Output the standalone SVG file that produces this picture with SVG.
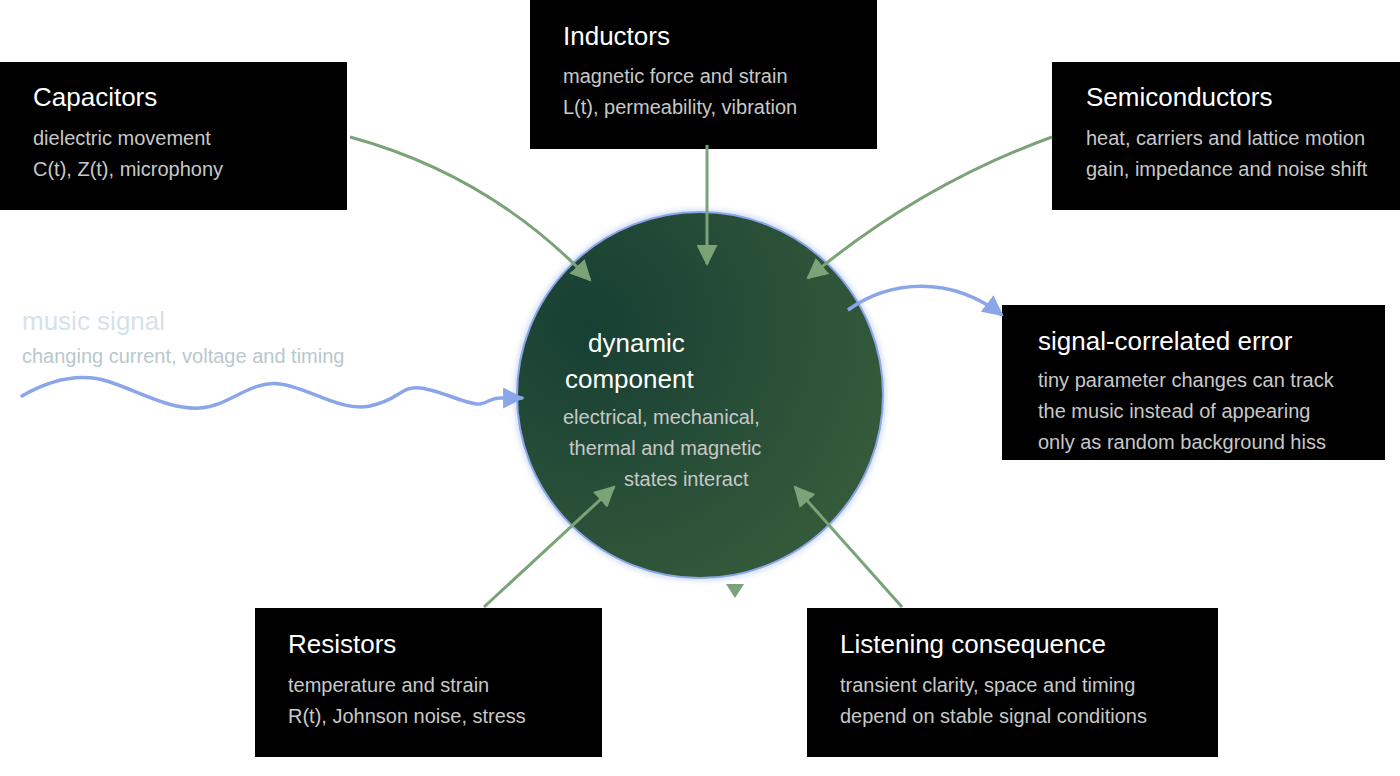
<svg xmlns="http://www.w3.org/2000/svg" width="1400" height="776" viewBox="0 0 1400 776">
<defs>
<radialGradient id="cg" cx="0.2" cy="0.3" r="1">
<stop offset="0" stop-color="#173f33"/><stop offset="1" stop-color="#3a5f3c"/>
</radialGradient>
<filter id="glow" x="-20%" y="-20%" width="140%" height="140%"><feGaussianBlur stdDeviation="3"/></filter>
<marker id="ag" viewBox="0 0 10 10" refX="9" refY="5" markerWidth="7" markerHeight="7" markerUnits="strokeWidth" orient="auto"><path d="M0,0L10,5L0,10z" fill="#7aa378"/></marker>
<marker id="ab" viewBox="0 0 10 10" refX="9" refY="5" markerWidth="6" markerHeight="6" markerUnits="strokeWidth" orient="auto"><path d="M0,0L10,5L0,10z" fill="#8aa6e8"/></marker>
</defs>
<style>
.box{fill:#000}
.t{font-family:"Liberation Sans",Arial,sans-serif;font-size:26px;fill:#fff}
.s{font-family:"Liberation Sans",Arial,sans-serif;font-size:20px;fill:#c8c8c8}
.c{fill:none;stroke:#7aa378;stroke-width:3}
.b{fill:none;stroke:#8aa6e8;stroke-width:3.5}
</style>
<rect width="1400" height="776" fill="#fff"/>
<g id="core">
<circle cx="700" cy="395" r="185" fill="#8aa6e8" opacity="0.5" filter="url(#glow)"/>
<circle cx="700" cy="395" r="183" fill="url(#cg)" stroke="#8aa6e8" stroke-width="2"/>
<text class="t" x="588" y="352" fill="#e8f0e8">dynamic</text>
<text class="t" x="565" y="388">component</text>
<text class="s" x="563" y="424">electrical, mechanical,</text>
<text class="s" x="569" y="455">thermal and magnetic</text>
<text class="s" x="624" y="486">states interact</text>
</g>
<g id="music">
<text x="22" y="330" font-family="Liberation Sans,Arial,sans-serif" font-size="26" fill="#d6e2ea">music signal</text>
<text x="22" y="363" font-family="Liberation Sans,Arial,sans-serif" font-size="20" fill="#b8c8cc">changing current, voltage and timing</text>
</g>
<g id="capacitors"><rect class="box" x="0" y="62" width="347" height="148"/>
<text class="t" x="33" y="106">Capacitors</text><text class="s" x="33" y="145">dielectric movement</text><text class="s" x="33" y="176">C(t), Z(t), microphony</text></g>
<g id="inductors"><rect class="box" x="530" y="0" width="347" height="149"/>
<text class="t" x="563" y="45">Inductors</text><text class="s" x="563" y="83">magnetic force and strain</text><text class="s" x="563" y="114">L(t), permeability, vibration</text></g>
<g id="semiconductors"><rect class="box" x="1052" y="62" width="348" height="148"/>
<text class="t" x="1086" y="106">Semiconductors</text><text class="s" x="1086" y="145">heat, carriers and lattice motion</text><text class="s" x="1086" y="176">gain, impedance and noise shift</text></g>
<g id="error"><rect class="box" x="1002" y="305" width="383" height="155"/>
<text class="t" x="1038" y="350">signal-correlated error</text><text class="s" x="1038" y="387">tiny parameter changes can track</text><text class="s" x="1038" y="418">the music instead of appearing</text><text class="s" x="1038" y="449">only as random background hiss</text></g>
<g id="resistors"><rect class="box" x="255" y="608" width="347" height="149"/>
<text class="t" x="288" y="653">Resistors</text><text class="s" x="288" y="692">temperature and strain</text><text class="s" x="288" y="723">R(t), Johnson noise, stress</text></g>
<g id="listening"><rect class="box" x="807" y="608" width="411" height="149"/>
<text class="t" x="840" y="653">Listening consequence</text><text class="s" x="840" y="692">transient clarity, space and timing</text><text class="s" x="840" y="723">depend on stable signal conditions</text></g>
<g id="connectors">
<path class="c" d="M350,137 Q490,175 590,280" marker-end="url(#ag)"/>
<path class="c" d="M707,145 L707,264" marker-end="url(#ag)"/>
<path class="c" d="M1052,137 Q920,185 808,278" marker-end="url(#ag)"/>
<path class="c" d="M484,607 L614,487" marker-end="url(#ag)"/>
<path class="c" d="M902,607 L795,487" marker-end="url(#ag)"/>
<path d="M726,584 L744,584 L735,598z" fill="#7aa378"/>
<path class="b" d="M22,396 C50,380 80,372 110,382 S170,410 200,408 S250,380 280,384 S340,412 370,406 S400,386 420,388 S470,406 480,404 S490,398 500,398 L522,398" marker-end="url(#ab)" stroke-linecap="round"/>
<path class="b" d="M848,310 C890,280 950,275 1002,315" marker-end="url(#ab)"/>
</g>
</svg>
